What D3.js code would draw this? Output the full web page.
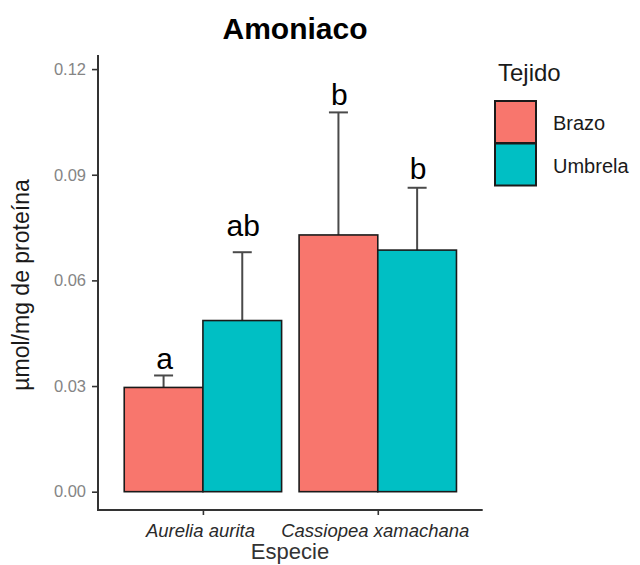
<!DOCTYPE html>
<html>
<head>
<meta charset="utf-8">
<script src="https://cdn.jsdelivr.net/npm/d3@7"></script>
<style>
  body { margin: 0; background: #fff; }
  svg { display: block; font-family: "Liberation Sans", Arial, sans-serif; }
</style>
</head>
<body>
<svg id="chart" width="640" height="565"></svg>
<script>
// ---- data ----
const species = ["Aurelia aurita", "Cassiopea xamachana"];
const tissues = ["Brazo", "Umbrela"];
const brazoMean = [0.0296, 0.0729];
const brazoSd = [0.0034, 0.0348];
const umbrelaMean = [0.0486, 0.0686];
const umbrelaSd = [0.0194, 0.0177];
const brazoLetters = ["a", "b"];
const umbrelaLetters = ["ab", "b"];
const brazoLetterY = [0.0348, 0.1098];
const umbrelaLetterY = [0.0726, 0.0887];
const yTicks = [0.00, 0.03, 0.06, 0.09, 0.12];
const colors = ["#F8766D", "#00BFC4"];

const rows = [];
species.forEach((s, i) => {
  rows.push({sp: s, t: "Brazo", v: brazoMean[i], sd: brazoSd[i], lab: brazoLetters[i], ly: brazoLetterY[i]});
  rows.push({sp: s, t: "Umbrela", v: umbrelaMean[i], sd: umbrelaSd[i], lab: umbrelaLetters[i], ly: umbrelaLetterY[i]});
});

const svg = d3.select("#chart");
const pLeft = 98, pRight = 482.7, pTop = 55, pBottom = 510;

const x = d3.scalePoint().domain(species).range([pLeft, pRight]).padding(0.6);
const step = x.step();
const dodge = d3.scaleBand().domain(tissues).range([-step * 0.45, step * 0.45]).padding(0);
const y = d3.scaleLinear().domain([-0.0052, 0.1240]).range([pBottom, pTop]);
const color = d3.scaleOrdinal().domain(tissues).range(colors);

// error bars (drawn under bars)
const capW = 19;
const eb = svg.append("g").attr("stroke", "#4a4a4a").attr("stroke-width", 2);
rows.forEach(d => {
  const cx = x(d.sp) + dodge(d.t) + dodge.bandwidth() / 2;
  eb.append("line").attr("x1", cx).attr("x2", cx).attr("y1", y(d.v - d.sd)).attr("y2", y(d.v + d.sd));
  eb.append("line").attr("x1", cx - capW / 2).attr("x2", cx + capW / 2).attr("y1", y(d.v + d.sd)).attr("y2", y(d.v + d.sd));
  eb.append("line").attr("x1", cx - capW / 2).attr("x2", cx + capW / 2).attr("y1", y(d.v - d.sd)).attr("y2", y(d.v - d.sd));
});

// bars
svg.append("g").selectAll("rect").data(rows).join("rect")
  .attr("x", d => x(d.sp) + dodge(d.t))
  .attr("width", dodge.bandwidth())
  .attr("y", d => y(d.v))
  .attr("height", d => y(0) - y(d.v))
  .attr("fill", d => color(d.t))
  .attr("stroke", "#1a1a1a")
  .attr("stroke-width", 1.6);

// significance letters
svg.append("g").selectAll("text").data(rows).join("text")
  .attr("x", d => x(d.sp) + dodge(d.t) + dodge.bandwidth() / 2 + 1)
  .attr("y", d => y(d.ly))
  .attr("text-anchor", "middle")
  .attr("font-size", 30)
  .attr("fill", "#000")
  .text(d => d.lab);

// y axis
const yAxis = svg.append("g").attr("transform", `translate(${pLeft},0)`)
  .call(d3.axisLeft(y).tickValues(yTicks).tickFormat(d3.format(".2f")).tickSize(6).tickPadding(6).tickSizeOuter(0));
yAxis.select(".domain").remove();
yAxis.selectAll(".tick line").attr("stroke", "#333").attr("stroke-width", 1.6);
yAxis.selectAll(".tick text").attr("font-size", 16.5).attr("fill", "#858585").attr("font-family", "Liberation Sans, Arial, sans-serif");

// x axis
const xAxis = svg.append("g").attr("transform", `translate(0,${pBottom})`)
  .call(d3.axisBottom(x).tickSize(5).tickPadding(9).tickSizeOuter(0));
xAxis.select(".domain").remove();
xAxis.selectAll(".tick line").attr("stroke", "#333").attr("stroke-width", 1.6);
xAxis.selectAll(".tick text").attr("font-size", 18.5).attr("font-style", "italic").attr("fill", "#2a2a2a")
  .attr("dx", -3).attr("font-family", "Liberation Sans, Arial, sans-serif");

// axis lines (L shape)
svg.append("path")
  .attr("d", `M${pLeft},${pTop} L${pLeft},${pBottom} L${pRight},${pBottom}`)
  .attr("fill", "none").attr("stroke", "#333").attr("stroke-width", 2);

// title
svg.append("text").attr("x", 295).attr("y", 38.5).attr("text-anchor", "middle")
  .attr("font-size", 30).attr("font-weight", "bold").attr("fill", "#000").text("Amoniaco");

// axis titles
svg.append("text").attr("transform", "translate(29,285) rotate(-90)").attr("text-anchor", "middle")
  .attr("font-size", 23).attr("fill", "#1a1a1a").text("µmol/mg de proteína");
svg.append("text").attr("x", 290).attr("y", 559).attr("text-anchor", "middle")
  .attr("font-size", 22).attr("fill", "#333").text("Especie");

// legend
const lg = svg.append("g");
lg.append("text").attr("x", 498).attr("y", 81).attr("font-size", 24).attr("fill", "#1a1a1a").text("Tejido");
tissues.forEach((t, i) => {
  const ky = 101 + i * 42.5;
  lg.append("rect").attr("x", 495).attr("y", ky).attr("width", 41).attr("height", 42)
    .attr("fill", color(t)).attr("stroke", "#1a1a1a").attr("stroke-width", 2);
  lg.append("text").attr("x", 553).attr("y", ky + 29).attr("font-size", 20).attr("fill", "#1a1a1a").text(t);
});
</script>
</body>
</html>
